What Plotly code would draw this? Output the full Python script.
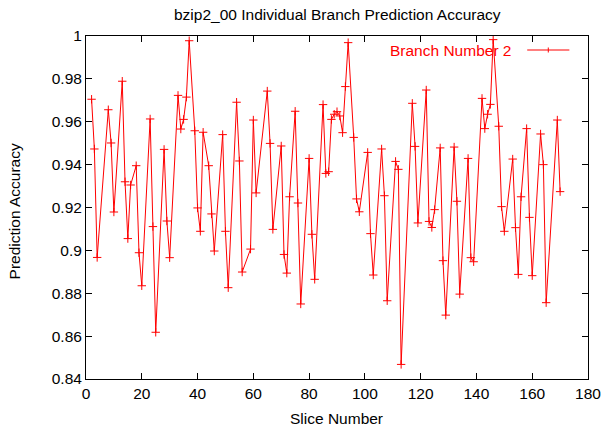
import plotly.graph_objects as go

slice_number = [2, 3, 4, 8, 9, 10, 13, 14, 15, 16, 18, 19, 20, 23, 24, 25, 28, 29, 30,
                33, 34, 35, 36, 37, 39, 40, 41, 42, 44, 45, 46, 49, 50, 51, 54, 55, 56,
                59, 60, 61, 65, 66, 67, 70, 71, 72, 73, 75, 76, 77, 80, 81, 82, 85, 86,
                87, 88, 89, 90, 91, 92, 93, 94, 96, 97, 98, 101, 102, 103, 106, 107, 108,
                111, 112, 113, 117, 118, 119, 122, 123, 124, 125, 127, 128, 129, 132, 133,
                134, 137, 138, 139, 142, 143, 144, 145, 146, 148, 149, 150, 153, 154, 155,
                156, 158, 159, 160, 163, 164, 165, 169, 170]

accuracy = [0.9705, 0.9473, 0.8967, 0.9656, 0.9501, 0.9179, 0.9789, 0.9320, 0.9055, 0.9305,
            0.9395, 0.8989, 0.8835, 0.9613, 0.9111, 0.8618, 0.9471, 0.9137, 0.8966,
            0.9723, 0.9566, 0.9611, 0.9715, 0.9978, 0.9558, 0.9198, 0.9089, 0.9551,
            0.9395, 0.9170, 0.8997, 0.9540, 0.9089, 0.8826, 0.9691, 0.9417, 0.8899,
            0.9006, 0.9608, 0.9268, 0.9743, 0.9499, 0.9098, 0.9487, 0.8981, 0.8894,
            0.9250, 0.9649, 0.9221, 0.8750, 0.9429, 0.9075, 0.8865, 0.9680, 0.9359,
            0.9367, 0.9611, 0.9635, 0.9647, 0.9627, 0.9549, 0.9764, 0.9969, 0.9527,
            0.9240, 0.9180, 0.9457, 0.9078, 0.8885, 0.9473, 0.9255, 0.8765, 0.9415,
            0.9378, 0.8468, 0.9686, 0.9485, 0.9128, 0.9748, 0.9135, 0.9107, 0.9190,
            0.9478, 0.8952, 0.8698, 0.9482, 0.9229, 0.8796, 0.9429, 0.8966, 0.8947,
            0.9709, 0.9568, 0.9635, 0.9681, 0.9983, 0.9579, 0.9204, 0.9089, 0.9426,
            0.9106, 0.8888, 0.9250, 0.9568, 0.9154, 0.8882, 0.9543, 0.9400, 0.8756,
            0.9608, 0.9274]

x_ticks = [0, 20, 40, 60, 80, 100, 120, 140, 160, 180]
y_ticks = [0.84, 0.86, 0.88, 0.90, 0.92, 0.94, 0.96, 0.98, 1.0]
y_tick_labels = ["0.84", "0.86", "0.88", "0.9", "0.92", "0.94", "0.96", "0.98", "1"]

series_name = "Branch Number 2"
title_text = "bzip2_00 Individual Branch Prediction Accuracy"

W, H = 613, 434
L, R, T, B = 86, 15, 36, 55
pw, ph = W - L - R, H - T - B

def px_x(p):
    return (p - L) / pw

def px_y(p):
    return (H - B - p) / ph

FONT = "Liberation Sans, Arial, sans-serif"
FS = 15.5

fig = go.Figure()
fig.add_trace(go.Scatter(
    x=slice_number, y=accuracy, mode="lines+markers", name=series_name,
    line=dict(color="#ff0000", width=1),
    marker=dict(symbol="cross-thin", size=6, line=dict(color="#ff0000", width=1), color="#ff0000"),
    showlegend=False, hoverinfo="skip",
))

axis_common = dict(showline=True, linecolor="black", linewidth=1, mirror="allticks",
                   ticks="inside", ticklen=6, tickcolor="black", tickwidth=1,
                   showgrid=False, zeroline=False,
                   tickfont=dict(family=FONT, size=FS, color="black"))

fig.update_xaxes(range=[0, 180], tickvals=x_ticks, **axis_common)
fig.update_yaxes(range=[0.84, 1.0], tickvals=y_ticks, ticktext=y_tick_labels, **axis_common)

annotations = [
    dict(text=title_text, x=px_x(342), y=px_y(15), xref="paper", yref="paper",
         xanchor="center", yanchor="middle", showarrow=False,
         font=dict(family=FONT, size=FS, color="black")),
    dict(text="Slice Number", x=px_x(341), y=px_y(418), xref="paper", yref="paper",
         xanchor="center", yanchor="middle", showarrow=False,
         font=dict(family=FONT, size=FS, color="black")),
    dict(text="Prediction Accuracy", x=px_x(13), y=px_y(211), xref="paper", yref="paper",
         xanchor="center", yanchor="middle", showarrow=False, textangle=-90,
         font=dict(family=FONT, size=FS, color="black")),
    dict(text=series_name, x=px_x(521), y=px_y(50), xref="paper", yref="paper",
         xanchor="right", yanchor="middle", showarrow=False,
         font=dict(family=FONT, size=FS, color="#ff0000")),
]

shapes = [
    dict(type="line", xref="paper", yref="paper", x0=px_x(536), x1=px_x(579),
         y0=px_y(50), y1=px_y(50), line=dict(color="#ff0000", width=1)),
    dict(type="line", xref="paper", yref="paper", x0=px_x(557.5), x1=px_x(557.5),
         y0=px_y(47.5), y1=px_y(52.5), line=dict(color="#ff0000", width=1)),
]

fig.update_layout(
    width=W, height=H, margin=dict(l=L, r=R, t=T, b=B, pad=0),
    paper_bgcolor="white", plot_bgcolor="white",
    annotations=annotations, shapes=shapes, showlegend=False,
    font=dict(family=FONT, size=FS, color="black"),
    hovermode=False,
)

fig.write_html("out.html", config={"displayModeBar": False, "staticPlot": True},
               post_script="document.body.style.margin='0';")
